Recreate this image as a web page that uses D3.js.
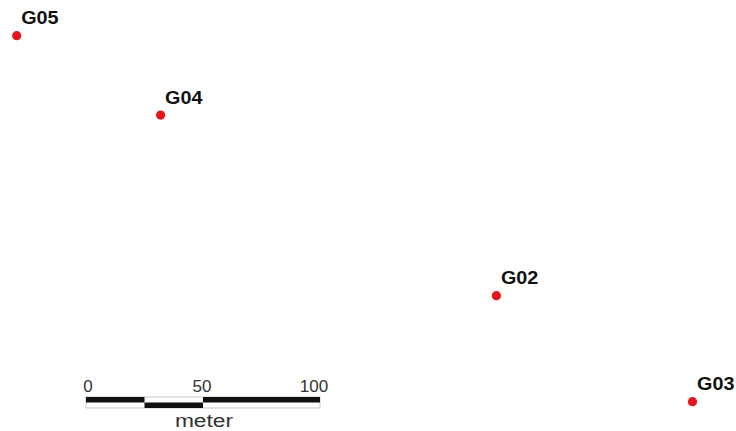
<!DOCTYPE html>
<meta charset="utf-8">
<script src="https://d3js.org/d3.v7.min.js"></script>
<style>
  body { margin: 0; background: #fff; }
</style>
<div id="map"></div>
<script>
    // station names and positions in meters (easting, northing)
    var stations = ["G05", "G04", "G02", "G03"];
    var easting = [0, 61.5, 205, 288.8];
    var northing = [156.4, 122.5, 45.3, 0];

    // scale bar ticks (meters)
    var barTicks = [0, 50, 100];
    var barSegments = [0, 25, 50, 100];

    var width = 736, height = 431;
    var pxPerMeter = 2.34;
    var font = "Liberation Sans, Arial, sans-serif";

    var svg = d3.select("#map")
      .append("svg")
        .attr("width", width)
        .attr("height", height);

    // meters -> pixels
    var x = d3.scaleLinear()
      .domain([0, 100])
      .range([16.7, 16.7 + 100 * pxPerMeter]);
    var y = d3.scaleLinear()
      .domain([0, 100])
      .range([401.7, 401.7 - 100 * pxPerMeter]);

    var data = stations.map(function(s, i) {
      return { name: s, e: easting[i], n: northing[i] };
    });

    // points
    svg.selectAll("circle")
      .data(data)
      .enter()
      .append("circle")
        .attr("cx", function(d) { return x(d.e); })
        .attr("cy", function(d) { return y(d.n); })
        .attr("r", 4.6)
        .attr("fill", "#e8141c");

    // labels (the original text is a little wide, so stretch it a bit)
    svg.selectAll("text.lbl")
      .data(data)
      .enter()
      .append("text")
        .attr("class", "lbl")
        .attr("transform", function(d) {
          return "translate(" + (x(d.e) + 4.5) + "," + (y(d.n) - 11.5) + ") scale(1.1,1)";
        })
        .text(function(d) { return d.name; })
        .style("font-family", font)
        .style("font-weight", "bold")
        .style("font-size", "18px")
        .attr("fill", "#111");

    // scale bar
    var bar = d3.scaleLinear()
      .domain([0, 100])
      .range([86, 86 + 100 * pxPerMeter]);
    var barTop = 397, barH = 11;

    var sb = svg.append("g");
    sb.append("rect")
      .attr("x", bar(0))
      .attr("y", barTop)
      .attr("width", bar(100) - bar(0))
      .attr("height", barH)
      .attr("fill", "#fff")
      .attr("stroke", "#bbb")
      .attr("stroke-width", 0.8);

    for (var i = 0; i < barSegments.length - 1; i++) {
      sb.append("rect")
        .attr("x", bar(barSegments[i]))
        .attr("y", i % 2 === 0 ? barTop : barTop + barH / 2)
        .attr("width", bar(barSegments[i + 1]) - bar(barSegments[i]))
        .attr("height", barH / 2)
        .attr("fill", "#111");
    }

    sb.selectAll("text.tick")
      .data(barTicks)
      .enter()
      .append("text")
        .attr("class", "tick")
        .attr("x", function(d, i) { return bar(d) + (i === 0 ? 2 : (i === 2 ? -6 : -1)); })
        .attr("y", 392)
        .attr("text-anchor", "middle")
        .text(function(d) { return d; })
        .style("font-family", font)
        .style("font-size", "17px")
        .attr("fill", "#333");

    sb.append("text")
      .attr("transform", "translate(" + (bar(50) + 1) + ",427) scale(1.2,1)")
      .attr("text-anchor", "middle")
      .text("meter")
      .style("font-family", font)
      .style("font-size", "19px")
      .attr("fill", "#333");
</script>
